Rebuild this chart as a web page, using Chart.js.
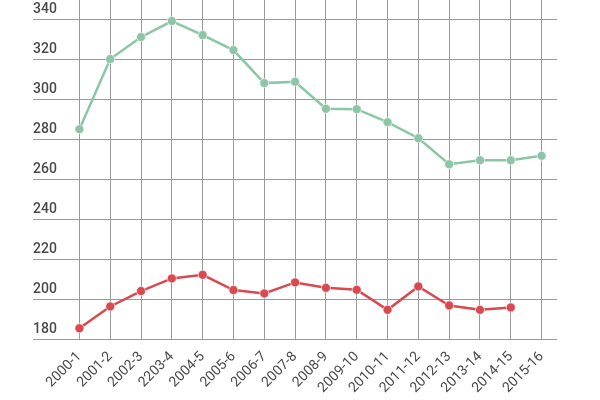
<!DOCTYPE html>
<html>
<head>
<meta charset="utf-8">
<script src="https://cdn.jsdelivr.net/npm/chart.js@4"></script>
<style>
  html, body { margin: 0; padding: 0; background: #fff; }
  #wrap { width: 600px; height: 400px; }
</style>
</head>
<body>
<div id="wrap"><canvas id="chart"></canvas></div>
<script>
var years = ['2000-1', '2001-2', '2002-3', '2203-4', '2004-5', '2005-6', '2006-7', '2007-8',
             '2008-9', '2009-10', '2010-11', '2011-12', '2012-13', '2013-14', '2014-15', '2015-16'];
var greenSeries = [285, 320, 331, 339, 332, 324.5, 308, 308.7, 295.2, 295, 288.5, 280.5, 267.5, 269.5, 269.5, 271.7];
var redSeries = [185.6, 196.5, 204.2, 210.5, 212.3, 204.7, 203, 208.5, 205.8, 204.8, 194.8, 206.5, 197, 194.8, 196, null];
var yMin = 180, yMax = 349.5, yStep = 20;

document.addEventListener('DOMContentLoaded', function () {
    Chart.defaults.font.family = 'Roboto';
    Chart.defaults.font.size = 14;
    Chart.defaults.color = '#4a4a4a';

    var ctx = document.getElementById('chart').getContext('2d');
    var chart = new Chart(ctx, {
        type: 'line',
        data: {
            labels: years,
            datasets: [{
                data: greenSeries,
                borderColor: '#8cc6a6',
                backgroundColor: '#8cc6a6',
                pointBorderColor: 'rgba(255,255,255,0.6)',
                borderWidth: 2.5,
                pointRadius: 4.5,
                pointBorderWidth: 1
            }, {
                data: redSeries,
                borderColor: '#d9494f',
                backgroundColor: '#d9494f',
                pointBorderColor: 'rgba(255,255,255,0.6)',
                borderWidth: 2.5,
                pointRadius: 4.5,
                pointBorderWidth: 1
            }]
        },
        options: {
            responsive: true,
            maintainAspectRatio: false,
            animation: false,
            layout: { autoPadding: false, padding: { left: 33, right: 43, top: 0, bottom: 0 } },
            plugins: { legend: { display: false }, tooltip: { enabled: false } },
            scales: {
                x: {
                    offset: true,
                    afterFit: function (scale) {
                        scale.height = 60.5;
                        scale.paddingLeft = 0;
                        scale.paddingRight = 0;
                    },
                    grid: { offset: false, color: '#9a9a9a', lineWidth: 1, tickLength: 0, drawTicks: false },
                    border: { display: false },
                    ticks: { minRotation: 45, maxRotation: 45, padding: 9, font: { size: 14 } }
                },
                y: {
                    min: yMin,
                    max: yMax,
                    afterBuildTicks: function (scale) {
                        scale.ticks = scale.ticks.filter(function (t) { return t.value % yStep === 0; });
                    },
                    afterFit: function (scale) {
                        scale.width = 31;
                        scale.paddingTop = 0;
                        scale.paddingBottom = 0;
                    },
                    grid: { color: '#9a9a9a', lineWidth: 1, tickLength: 31 },
                    border: { display: false },
                    ticks: {
                        stepSize: yStep,
                        crossAlign: 'far',
                        labelOffset: -10,
                        font: { size: 14, weight: '500' }
                    }
                }
            }
        }
    });
});
</script>
</body>
</html>
